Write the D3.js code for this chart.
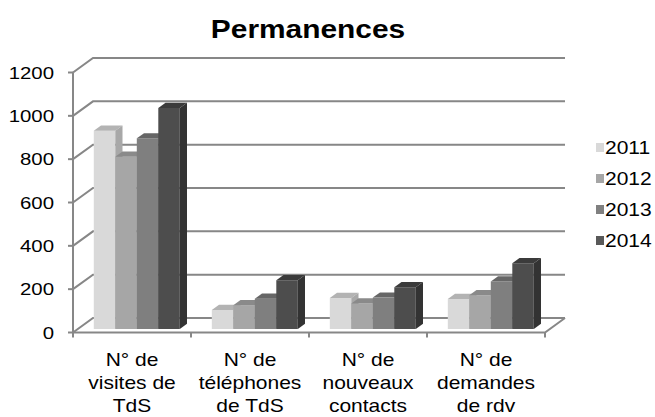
<!DOCTYPE html>
<html>
<head>
<meta charset="utf-8">
<script src="https://cdn.jsdelivr.net/npm/d3@7"></script>
<style>
  body { margin: 0; background: #fff; }
  text { font-family: "Liberation Sans", Arial, sans-serif; fill: #000; }
</style>
</head>
<body>
<div id="viz"></div>
<script>
const categories = ["visites", "telephones", "contacts", "rdv"];
const catLabels = [
    ["N° de", "visites de", "TdS"],
    ["N° de", "téléphones", "de TdS"],
    ["N° de", "nouveaux", "contacts"],
    ["N° de", "demandes", "de rdv"]
];
const years = ["2011", "2012", "2013", "2014"];
const values2011 = [915, 88, 143, 139];
const values2012 = [795, 110, 118, 156];
const values2013 = [880, 140, 145, 219];
const values2014 = [1020, 225, 193, 304];
const yTicks = [0, 200, 400, 600, 800, 1000, 1200];

document.addEventListener("DOMContentLoaded", () => {

    const width = 655;
    const height = 417;
    const series = [values2011, values2012, values2013, values2014];

    // front, top, side shades per year
    const shades = [
        { front: "#d9d9d9", top: "#b3b3b3", side: "#a8a8a8" },
        { front: "#a6a6a6", top: "#8a8a8a", side: "#7a7a7a" },
        { front: "#7f7f7f", top: "#666666", side: "#595959" },
        { front: "#4d4d4d", top: "#3b3b3b", side: "#333333" }
    ];
    const legendColors = ["#d9d9d9", "#a6a6a6", "#808080", "#595959"];

    const sx = 1.2;      // text in the picture is a bit stretched
    const DX = 20;       // depth offset of the back wall
    const DY = -14.5;
    const t0 = 0.24;     // bar front depth
    const t1 = 0.6;      // bar back depth
    const gridColor = "#878787";

    const svg = d3.select("#viz").append("svg")
        .attr("width", width)
        .attr("height", height);

    const x0 = d3.scaleBand().domain(categories).range([73, 545]);
    const x1 = d3.scaleBand().domain(years).range([16, 102]);
    const y = d3.scaleLinear().domain([0, 1200]).range([332.5, 72.5]);

    const proj = (x, v, t) => [x + t * DX, y(v) + t * DY];

    function stretchedText(g, x, yy, str, size, anchor, weight, scale) {
        return g.append("text")
            .attr("transform", `translate(${x},${yy}) scale(${scale || sx},1)`)
            .attr("text-anchor", anchor)
            .style("font-size", size + "px")
            .style("font-weight", weight || "normal")
            .text(str);
    }

    // title
    stretchedText(svg, 308, 38, "Permanences", 26, "middle", "bold", 1.15);

    // gridlines: side wall diagonal + back wall
    const xl = x0.range()[0], xr = x0.range()[1];
    const grid = svg.append("g")
        .attr("fill", "none")
        .attr("stroke", gridColor)
        .attr("stroke-width", 2);
    yTicks.forEach(v => {
        const a = proj(xl, v, 0), b = proj(xl, v, 1), c = proj(xr, v, 1);
        grid.append("path").attr("d", `M${a}L${b}L${c}`);
    });
    // floor
    grid.append("path").attr("d",
        `M${proj(xl, 0, 0)}L${proj(xr, 0, 0)}L${proj(xr, 0, 1)}`);

    // y axis
    const yAxis = svg.append("g");
    yAxis.append("line")
        .attr("x1", xl).attr("x2", xl)
        .attr("y1", y(0)).attr("y2", y(1200))
        .attr("stroke", gridColor).attr("stroke-width", 2);
    yTicks.forEach(v => {
        yAxis.append("line")
            .attr("x1", xl - 5).attr("x2", xl)
            .attr("y1", y(v)).attr("y2", y(v))
            .attr("stroke", gridColor).attr("stroke-width", 2);
        stretchedText(yAxis, 54, y(v) + 6, d3.format("d")(v), 17, "end");
    });

    // category ticks + labels
    const xAxis = svg.append("g");
    categories.forEach((c, i) => {
        xAxis.append("line")
            .attr("x1", x0(c)).attr("x2", x0(c))
            .attr("y1", y(0)).attr("y2", y(0) + 5)
            .attr("stroke", gridColor).attr("stroke-width", 2);
        catLabels[i].forEach((s, j) => {
            stretchedText(xAxis, x0(c) + x0.bandwidth() / 2, 366 + j * 23, s, 17.5, "middle");
        });
    });
    xAxis.append("line")
        .attr("x1", xr).attr("x2", xr)
        .attr("y1", y(0)).attr("y2", y(0) + 5)
        .attr("stroke", gridColor).attr("stroke-width", 2);

    // bars, drawn left to right so right faces get covered
    const bars = svg.append("g");
    categories.forEach((c, ci) => {
        years.forEach((yr, si) => {
            const v = series[si][ci];
            const xa = x0(c) + x1(yr);
            const xb = xa + x1.bandwidth();
            const f1 = proj(xa, 0, t0), f2 = proj(xb, 0, t0),
                  f3 = proj(xb, v, t0), f4 = proj(xa, v, t0);
            const b3 = proj(xb, v, t1), b4 = proj(xa, v, t1), b2 = proj(xb, 0, t1);
            bars.append("path")
                .attr("d", `M${f1}L${f2}L${f3}L${f4}Z`)
                .attr("fill", shades[si].front);
            bars.append("path")
                .attr("d", `M${f4}L${f3}L${b3}L${b4}Z`)
                .attr("fill", shades[si].top);
            bars.append("path")
                .attr("d", `M${f2}L${b2}L${b3}L${f3}Z`)
                .attr("fill", shades[si].side);
        });
    });

    // legend
    const legend = svg.append("g");
    years.forEach((yr, i) => {
        const cy = 147.5 + i * 31;
        legend.append("rect")
            .attr("x", 596).attr("y", cy - 4.5)
            .attr("width", 8).attr("height", 9)
            .attr("fill", legendColors[i]);
        stretchedText(legend, 605, cy + 6, yr, 17.5, "start");
    });
});
</script>
</body>
</html>
